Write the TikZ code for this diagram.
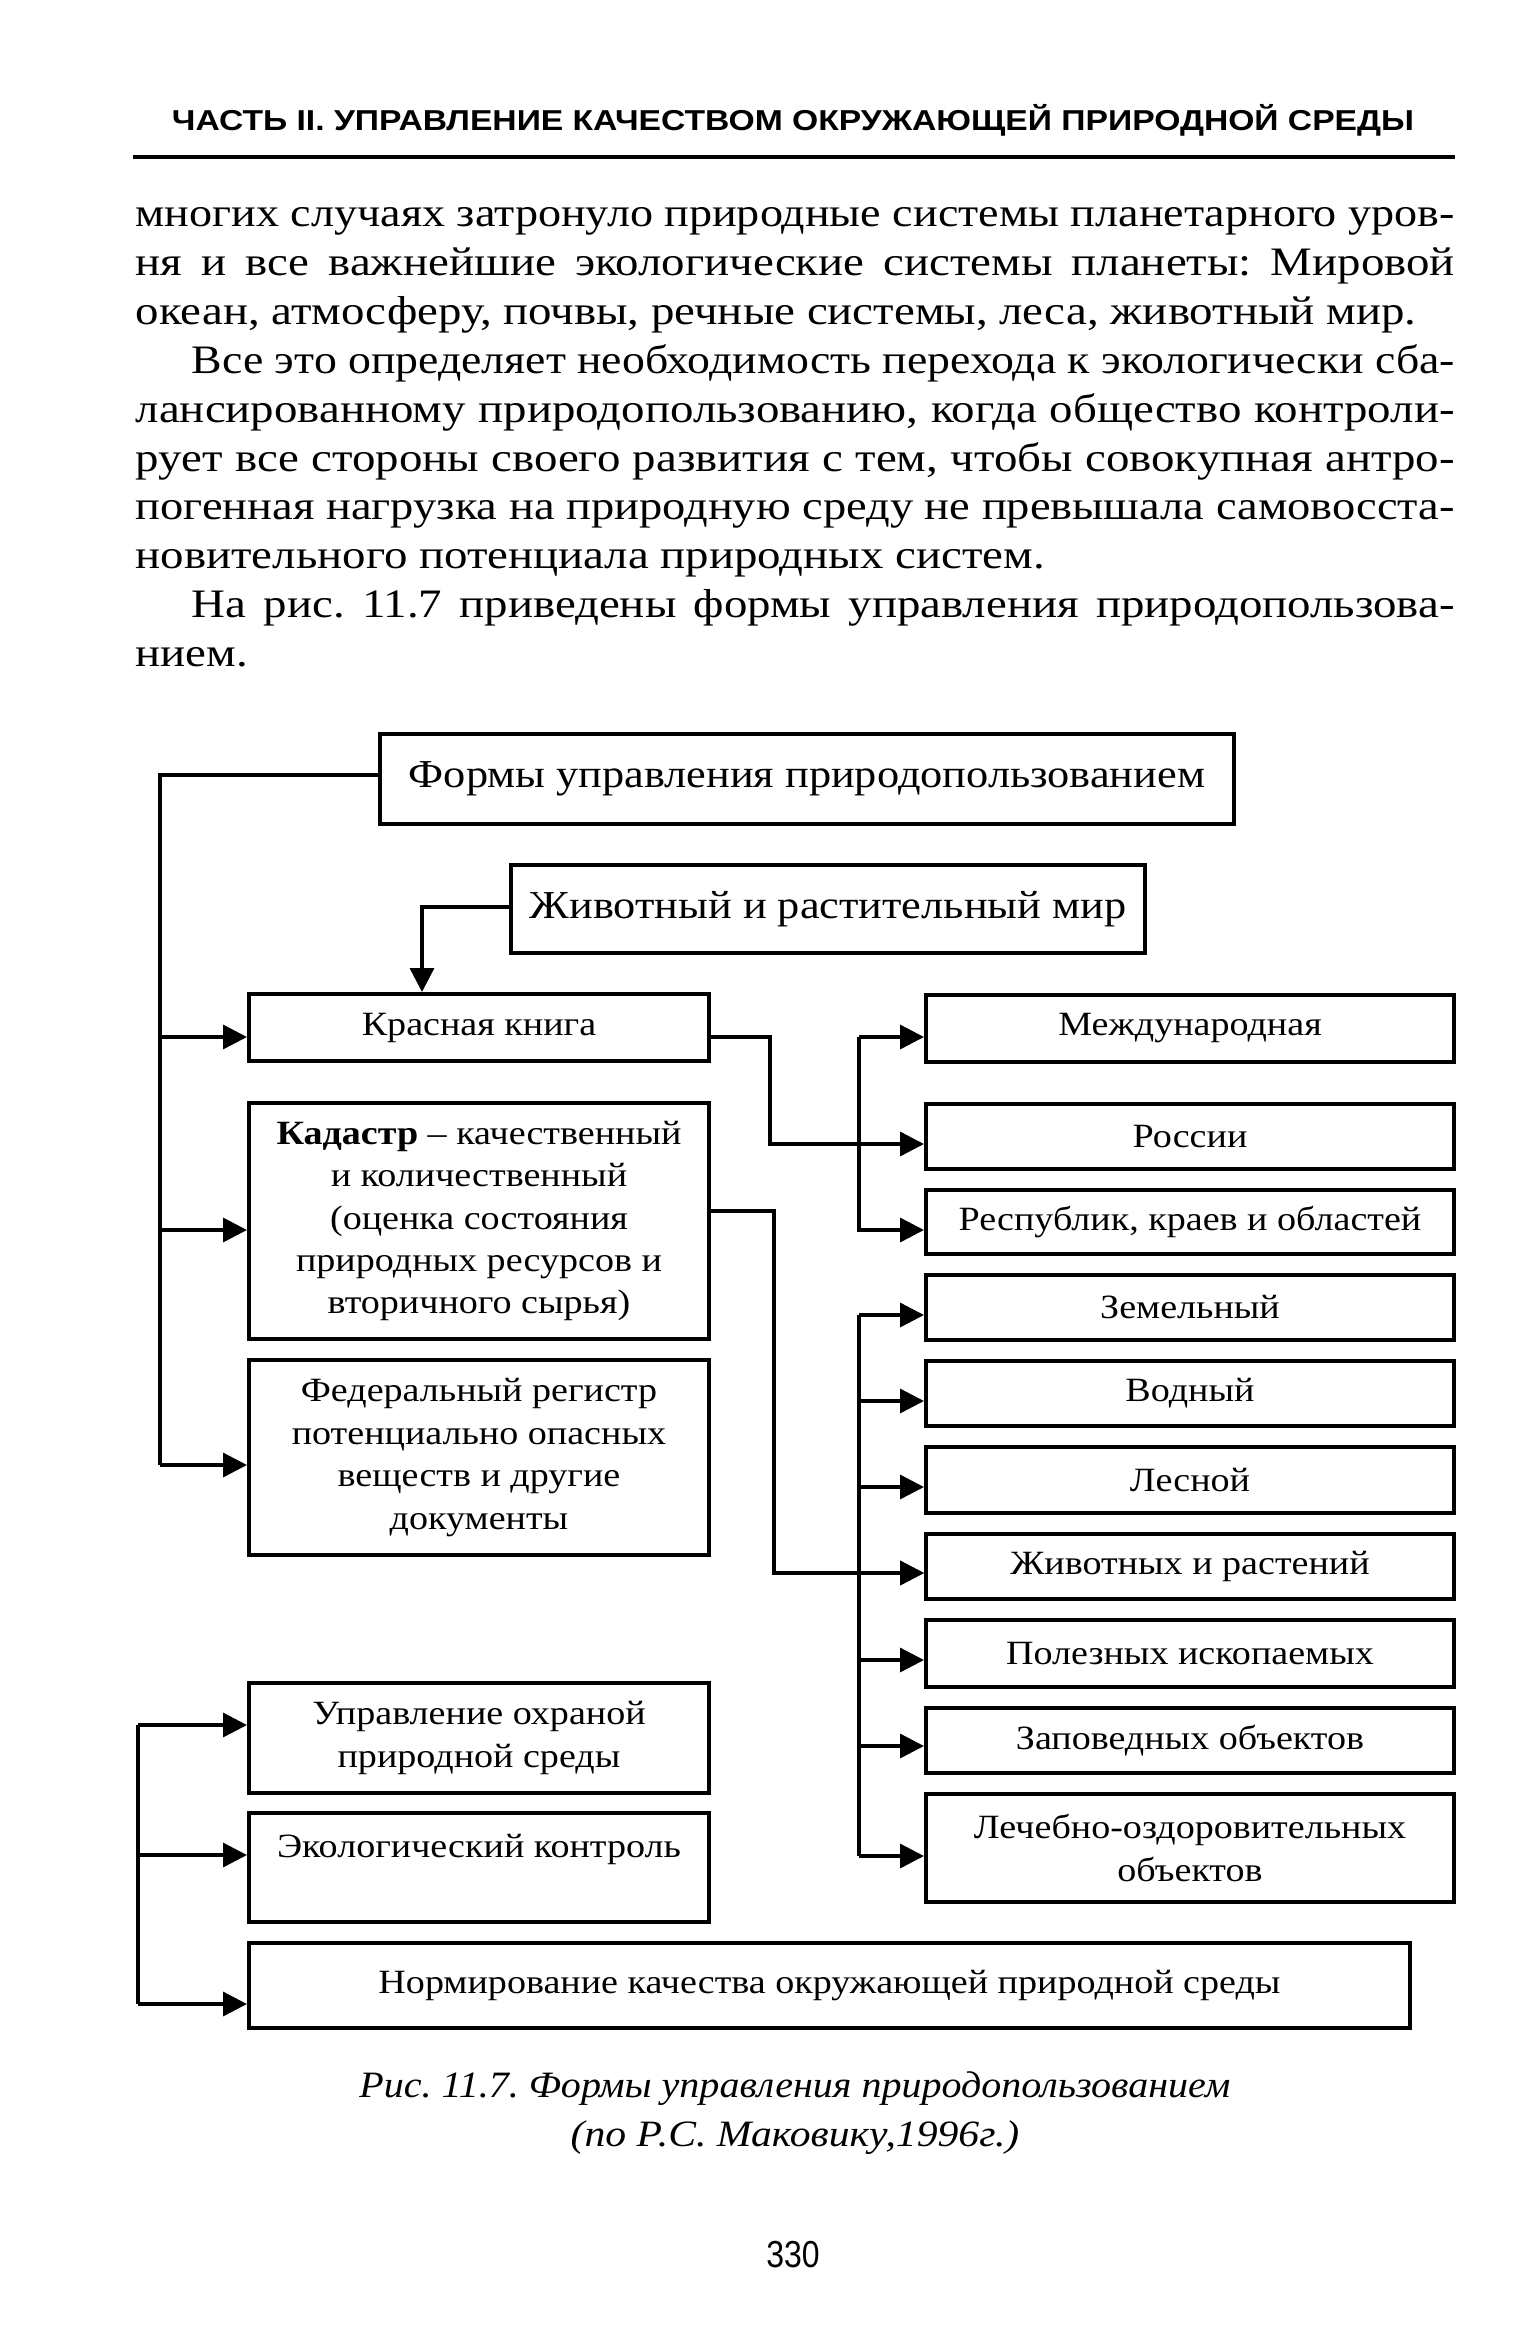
\documentclass[tikz,border=0pt]{standalone}
\usepackage{fontspec}
\usepackage{graphicx}
\setmainfont{Liberation Serif}[FakeStretch=1.12]
\newfontfamily\bodyfont{Liberation Serif}[FakeStretch=1.16]
\newfontfamily\hdrfont{Liberation Sans}
\usetikzlibrary{arrows.meta}
\frenchspacing
\newsavebox\lnbox
\newlength\jw
\newcommand\jline[2]{\setlength\jw{#1}\sbox\lnbox{#2}%
  \ifdim\wd\lnbox>\jw\resizebox{\jw}{\ht\lnbox}{\usebox\lnbox}\else\makebox[\jw][s]{#2}\fi}
\newcommand\fitw[2]{\sbox\lnbox{#2}\resizebox{#1}{\ht\lnbox}{\usebox\lnbox}}
\tikzset{
  body/.style={inner sep=0pt, anchor=base west, font=\bodyfont\fontsize{10.1}{12}\selectfont\frenchspacing},
  box/.style={draw, line width=1pt, inner sep=0pt, anchor=north west, align=center,
    font=\fontsize{8.5}{10.6}\selectfont},
  bigbox/.style={box, font=\fontsize{9.9}{11.8}\selectfont},
  leftbox/.style={box, minimum width=115pt},
  rightbox/.style={box, minimum width=132pt},
  conn/.style={line width=0.85pt},
  arr/.style={conn, -{Triangle[length=6pt,width=6pt]}},
  capt/.style={inner sep=0pt, anchor=base, font=\fontsize{9.3}{11}\selectfont\itshape\frenchspacing},
}
\begin{document}
\begin{tikzpicture}[x=0.25pt,y=-0.25pt]
\useasboundingbox (0,0) rectangle (1532,2343);
\fill[white] (0,0) rectangle (1532,2343);

% header
\node[inner sep=0pt, anchor=base] (hdr) at (793,131)
  {\fitw{310.5pt}{\hdrfont\bfseries\fontsize{7.2}{8}\selectfont ЧАСТЬ II. УПРАВЛЕНИЕ КАЧЕСТВОМ ОКРУЖАЮЩЕЙ ПРИРОДНОЙ СРЕДЫ}};
\coordinate (ruleL) at (133,157);
\coordinate (ruleR) at (1455,157);
\draw[line width=1.1pt] (ruleL) -- (ruleR);

% body text
\node[body] (t1) at (135,227.0) {\jline{329.75pt}{многих случаях затронуло природные системы планетарного уров-}};
\node[body] (t2) at (135,275.8) {\jline{329.75pt}{ня и все важнейшие экологические системы планеты: Мировой}};
\node[body] (t3) at (135,324.6) {океан, атмосферу, почвы, речные системы, леса, животный мир.};
\node[body] (t4) at (191,373.4) {\jline{315.75pt}{Все это определяет необходимость перехода к экологически сба-}};
\node[body] (t5) at (135,422.2) {\jline{329.75pt}{лансированному природопользованию, когда общество контроли-}};
\node[body] (t6) at (135,471.0) {\jline{329.75pt}{рует все стороны своего развития с тем, чтобы совокупная антро-}};
\node[body] (t7) at (135,519.8) {\jline{329.75pt}{погенная нагрузка на природную среду не превышала самовосста-}};
\node[body] (t8) at (135,568.6) {новительного потенциала природных систем.};
\node[body] (t9) at (191,617.4) {\jline{315.75pt}{На рис. 11.7 приведены формы управления природопользова-}};
\node[body] (t10) at (135,666.2) {нием.};

% boxes
\node[bigbox, minimum width=213.5pt, minimum height=22.5pt] (forms) at (378,732) {Формы управления природопользованием};
\node[bigbox, minimum width=158.5pt, minimum height=22pt] (zhiv) at (509,863) {Животный и растительный мир};

\node[leftbox, minimum height=16.75pt] (red) at (247,992) {Красная книга};
\node[leftbox, minimum height=59pt] (kad) at (247,1101) {\textbf{Кадастр} – качественный\\и количественный\\(оценка состояния\\природных ресурсов и\\вторичного сырья)};
\node[leftbox, minimum height=48.75pt] (fed) at (247,1358) {Федеральный регистр\\потенциально опасных\\веществ и другие\\документы};
\node[leftbox, minimum height=27.5pt] (upr) at (247,1681) {Управление охраной\\природной среды};
\node[leftbox, minimum height=27.25pt] (eko) at (247,1811) {Экологический контроль\\\mbox{}};
\node[box, minimum width=290.25pt, minimum height=21.25pt] (norm) at (247,1941) {Нормирование качества окружающей природной среды};

\node[rightbox, minimum height=16.75pt] (mezh) at (924,993) {Международная};
\node[rightbox, minimum height=16.25pt] (ross) at (924,1102) {России};
\node[rightbox, minimum height=16pt] (resp) at (924,1188) {Республик, краев и областей};
\node[rightbox, minimum height=16.25pt] (zem) at (924,1273) {Земельный};
\node[rightbox, minimum height=16.25pt] (vod) at (924,1359) {Водный};
\node[rightbox, minimum height=16.5pt] (les) at (924,1445) {Лесной};
\node[rightbox, minimum height=16.25pt] (zhr) at (924,1532) {Животных и растений};
\node[rightbox, minimum height=16.75pt] (pol) at (924,1618) {Полезных ископаемых};
\node[rightbox, minimum height=16.25pt] (zap) at (924,1706) {Заповедных объектов};
\node[rightbox, minimum height=27pt] (lech) at (924,1792) {Лечебно-оздоровительных\\объектов};

% left bus
\coordinate (Ltop) at (160,775);
\coordinate (Lred) at (160,1037);
\coordinate (Lkad) at (160,1230);
\coordinate (Lfed) at (160,1465);
\draw[conn] (Ltop -| forms.west) -- (Ltop) -- (Lfed);
\draw[arr] (Lred) -- (Lred -| red.west);
\draw[arr] (Lkad) -- (Lkad -| kad.west);
\draw[arr] (Lfed) -- (Lfed -| fed.west);

% zhiv -> red
\coordinate (Zc) at (422,907);
\draw[arr] (Zc -| zhiv.west) -- (Zc) -- (Zc |- red.north);

% red -> ross
\coordinate (R1) at (770,1037);
\coordinate (R2) at (770,1144);
\draw[arr] (R1 -| red.east) -- (R1) -- (R2) -- (R2 -| ross.west);

% bus 1
\coordinate (B1a) at (859,1037);
\coordinate (B1b) at (859,1230);
\draw[arr] (B1a) -- (B1a -| mezh.west);
\draw[arr] (B1a) -- (B1b) -- (B1b -| resp.west);

% kad -> zhr
\coordinate (K1) at (774,1211);
\coordinate (K2) at (774,1573);
\draw[arr] (K1 -| kad.east) -- (K1) -- (K2) -- (K2 -| zhr.west);

% bus 2
\coordinate (C1) at (859,1315);
\coordinate (C2) at (859,1401);
\coordinate (C3) at (859,1487);
\coordinate (C4) at (859,1573);
\coordinate (C5) at (859,1660);
\coordinate (C6) at (859,1746);
\coordinate (C7) at (859,1856);
\draw[conn] (C1) -- (C7);
\draw[arr] (C1) -- (C1 -| zem.west);
\draw[arr] (C2) -- (C2 -| vod.west);
\draw[arr] (C3) -- (C3 -| les.west);
\draw[arr] (C4) -- (C4 -| zhr.west);
\draw[arr] (C5) -- (C5 -| pol.west);
\draw[arr] (C6) -- (C6 -| zap.west);
\draw[arr] (C7) -- (C7 -| lech.west);

% bottom bus
\coordinate (D1) at (138,1725);
\coordinate (D2) at (138,1855);
\coordinate (D3) at (138,2004);
\draw[conn] (D1) -- (D3);
\draw[arr] (D1) -- (D1 -| upr.west);
\draw[arr] (D2) -- (D2 -| eko.west);
\draw[arr] (D3) -- (D3 -| norm.west);

% caption
\node[capt] (cap1) at (795,2097) {\fitw{217.75pt}{Рис. 11.7. Формы управления природопользованием}};
\node[capt] (cap2) at (795,2146) {(по Р.С. Маковику,1996г.)};

% page number
\node[inner sep=0pt, anchor=base] (pg) at (793,2267) {\scalebox{0.85}[1]{\hdrfont\fontsize{9.4}{11}\selectfont 330}};
\end{tikzpicture}
\end{document}
